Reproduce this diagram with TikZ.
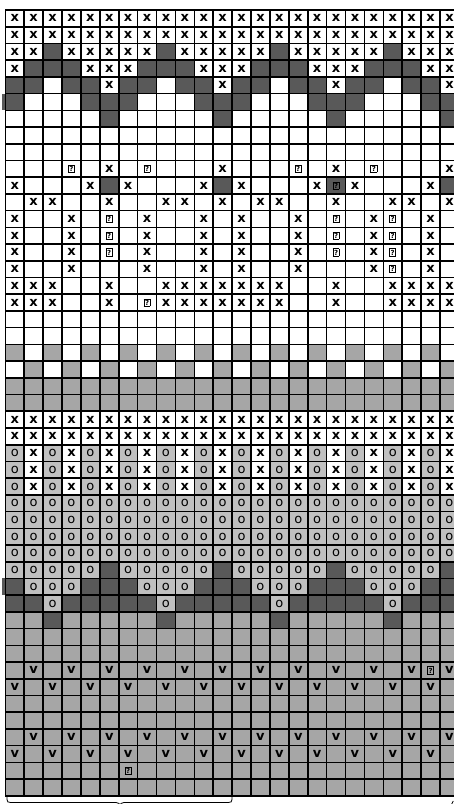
\documentclass[tikz,border=0pt]{standalone}
\usepackage{fontspec}
\setmainfont{DejaVu Sans}
\usepackage{xcolor}
\usepackage{tikz}

\definecolor{darkcell}{HTML}{595959}
\definecolor{midcell}{HTML}{A6A6A6}
\definecolor{lightcell}{HTML}{C0C0C0}
\newcommand{\qglyph}{{\setlength{\fboxsep}{0.7pt}\setlength{\fboxrule}{0.7pt}\fbox{\fontsize{7}{7}\selectfont\bfseries ?}}}

\tikzset{
  cell/.style={minimum width=18.9pt, minimum height=16.72pt, inner sep=0pt, outer sep=0pt, font=\fontsize{13}{13}\selectfont},
  kw/.style={fill=white, node contents={}},
  kx/.style={fill=white, node contents={\bfseries x}},
  kq/.style={fill=white, node contents={\qglyph}},
  kd/.style={fill=darkcell, node contents={}},
  kQ/.style={fill=darkcell, node contents={\qglyph}},
  kg/.style={fill=midcell, node contents={}},
  kG/.style={fill=midcell, node contents={\qglyph}},
  ko/.style={fill=lightcell, node contents={o}},
  kv/.style={fill=midcell, node contents={\bfseries v}},
  gridline/.style={line width=1.6pt, black},
  bracket/.style={line width=0.8pt, black},
}

\begin{document}
\begin{tikzpicture}[x=1pt,y=1pt]
    \path[use as bounding box] (0,0) rectangle (454,804);
    \clip (0,0) rectangle (454,804);
    % row / repeats / pattern
    \foreach \r/\n/\pat in {
        1/24/{x}, 2/24/{x},
        3/4/{x,x,d,x,x,x}, 4/4/{x,d,d,d,x,x}, 5/4/{d,d,w,d,d,x}, 6/4/{d,w,w,w,d,d}, 7/4/{w,w,w,w,w,d},
        8/24/{w}, 9/24/{w},
        10/2/{w,w,w,q,w,x,w,q,w,w,w,x},
        11/1/{x,w,w,w,x,d,x,w,w,w,x,d,x,w,w,w,x,Q,x,w,w,w,x,d},
        12/2/{w,x,x,w,w,x,w,w,x,x,w,x},
        13/1/{x,w,w,x,w,q,w,x,w,w,x,w,x,w,w,x,w,q,w,x,q,w,x,w},
        14/1/{x,w,w,x,w,q,w,x,w,w,x,w,x,w,w,x,w,q,w,x,q,w,x,w},
        15/1/{x,w,w,x,w,q,w,x,w,w,x,w,x,w,w,x,w,q,w,x,q,w,x,w},
        16/1/{x,w,w,x,w,w,w,x,w,w,x,w,x,w,w,x,w,w,w,x,q,w,x,w},
        17/2/{x,x,x,w,w,x,w,w,x,x,x,x},
        18/1/{x,x,x,w,w,x,w,q,x,x,x,x,x,x,x,w,w,x,w,w,x,x,x,x},
        19/24/{w}, 20/24/{w},
        21/12/{g,w}, 22/12/{w,g}, 23/24/{g}, 24/24/{g},
        25/24/{x}, 26/24/{x},
        27/12/{o,x}, 28/12/{o,x}, 29/12/{o,x},
        30/24/{o}, 31/24/{o}, 32/24/{o}, 33/24/{o},
        34/4/{o,o,o,o,o,d}, 35/4/{d,o,o,o,d,d}, 36/4/{d,d,o,d,d,d}, 37/4/{g,g,d,g,g,g},
        38/24/{g}, 39/24/{g},
        40/1/{g,v,g,v,g,v,g,v,g,v,g,v,g,v,g,v,g,v,g,v,g,v,G,v},
        41/12/{v,g}, 42/24/{g}, 43/24/{g}, 44/12/{g,v}, 45/12/{v,g},
        46/1/{g,g,g,g,g,g,G,g,g,g,g,g,g,g,g,g,g,g,g,g,g,g,g,g},
        47/24/{g}} {
        \pgfmathsetmacro\yc{794-(\r-0.5)*16.72}
        \foreach \rep in {1,...,\n} {
            \foreach \c [count=\k] in \pat {
                \pgfmathsetmacro\xc{5.3+((\rep-1)*24/\n+\k-0.5)*18.9}
                \path (\xc,\yc) node[cell,k\c];
            }
        }
    }
    % dark bits left of the grid
    \fill[darkcell] (2,710.4) rectangle (5.3,693.68);
    \fill[darkcell] (2,225.52) rectangle (5.3,208.8);
    % grid
    \foreach \k in {0,...,24} { \draw[gridline] (5.3+\k*18.9,8.16) -- (5.3+\k*18.9,794); }
    \foreach \k in {0,...,47} { \draw[gridline] (5.3,794-\k*16.72) -- (458.9,794-\k*16.72); }
    % bracket under the first twelve columns
    \draw[bracket] (7,8.2) -- (7,4.5) .. controls (7,2.2) and (8,1.5) .. (10.5,1.5) -- (116,1.5)
        .. controls (118.5,1.5) and (120,0.5) .. (120,-3) .. controls (120,0.5) and (121.5,1.5) .. (124,1.5)
        -- (228.5,1.5) .. controls (231,1.5) and (232,2.2) .. (232,4.5) -- (232,8.2);
    \draw[bracket] (451.7,0) .. controls (452.3,1.2) .. (453.3,3);
\end{tikzpicture}
\end{document}
